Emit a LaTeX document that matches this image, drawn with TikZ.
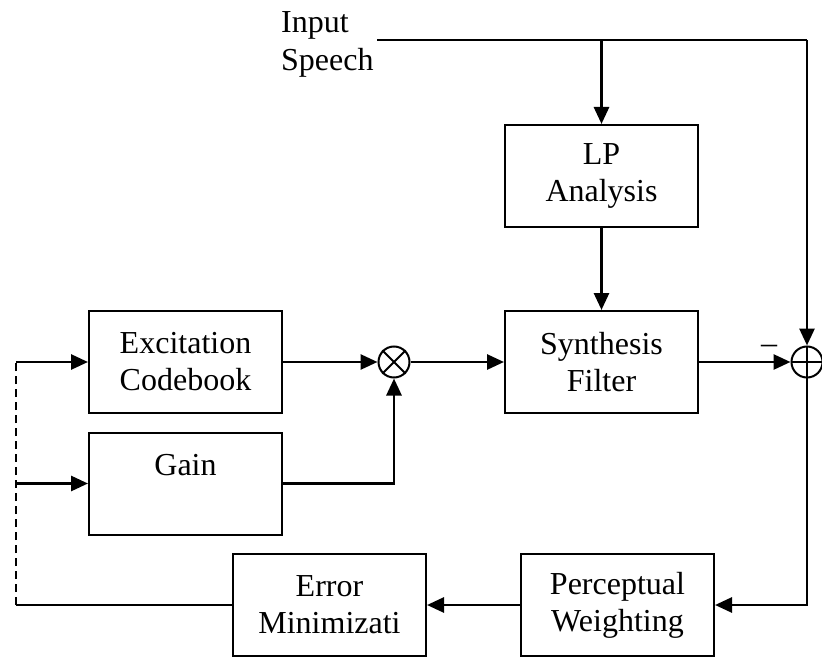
\documentclass[tikz,border=0pt]{standalone}
\usepackage{fontspec}
\setmainfont{Liberation Serif}
\usetikzlibrary{arrows.meta}
\begin{document}
\begin{tikzpicture}[x=1pt,y=-1pt,
  font=\fontsize{32}{37}\selectfont,
  blk/.style={draw,line width=2pt,minimum width=193pt,minimum height=102pt,align=center,inner sep=0pt},
  conn/.style={line width=2.8pt,-{Triangle[length=17pt,width=15pt]}},
  plain/.style={line width=2.8pt},
  junc/.style={circle,draw,line width=2pt,minimum size=31pt,inner sep=0pt}]
\fill[white] (0,0) rectangle (822,658);
\useasboundingbox (0,0) rectangle (822,658);

\node[blk] (LP)   at (601.5,176)   {LP\\Analysis};
\node[blk] (Syn)  at (601.5,362)   {Synthesis\\Filter};
\node[blk] (Exc)  at (185.5,362)   {Excitation\\Codebook};
\node[blk] (Gain) at (185.5,483.5) {Gain\\\phantom{Gain}};
\node[blk] (Perc) at (617.5,605)   {Perceptual\\Weighting};
\node[blk] (Err)  at (329.5,605)   {Error\\Minimizati};

\node[junc] (mul) at (394,362) {};
\draw[line width=2pt] (mul.north west) -- (mul.south east) (mul.north east) -- (mul.south west);
\node[junc] (sum) at (807,362) {};
\draw[line width=2pt] (sum.north) -- (sum.south) (sum.west) -- (sum.east);

\node[anchor=north west,align=left,inner sep=0pt,font=\fontsize{32}{38}\selectfont] (inp) at (281,11) {Input\\Speech};
\node[inner sep=0pt] (minus) at (769,349) {–};

\coordinate (in) at (377,40);
\coordinate (tr) at (sum.north |- in);
\coordinate (br) at (LP.north |- in);
\draw[plain] (in) -- (tr);
\draw[conn] (tr) -- (sum.north);
\draw[conn] (br) -- (LP.north);
\draw[conn] (LP) -- (Syn);
\draw[conn] (Syn.east) -- (sum.west);
\draw[conn] (Exc) -- (mul);
\draw[conn] (mul) -- (Syn);
\draw[conn] (Gain.east) -| (mul.south);
\draw[conn] (sum.south) |- (Perc.east);
\draw[conn] (Perc) -- (Err);

\coordinate (fb) at (16,605);
\coordinate (fbtop) at (fb |- Exc.west);
\coordinate (fbmid) at (fb |- Gain.west);
\draw[line width=2pt] (Err.west) -- (fb);
\draw[line width=2pt,dash pattern=on 8pt off 5pt] (fb) -- (fbtop);
\draw[conn] (fbtop) -- (Exc.west);
\draw[conn] (fbmid) -- (Gain.west);
\end{tikzpicture}
\end{document}
